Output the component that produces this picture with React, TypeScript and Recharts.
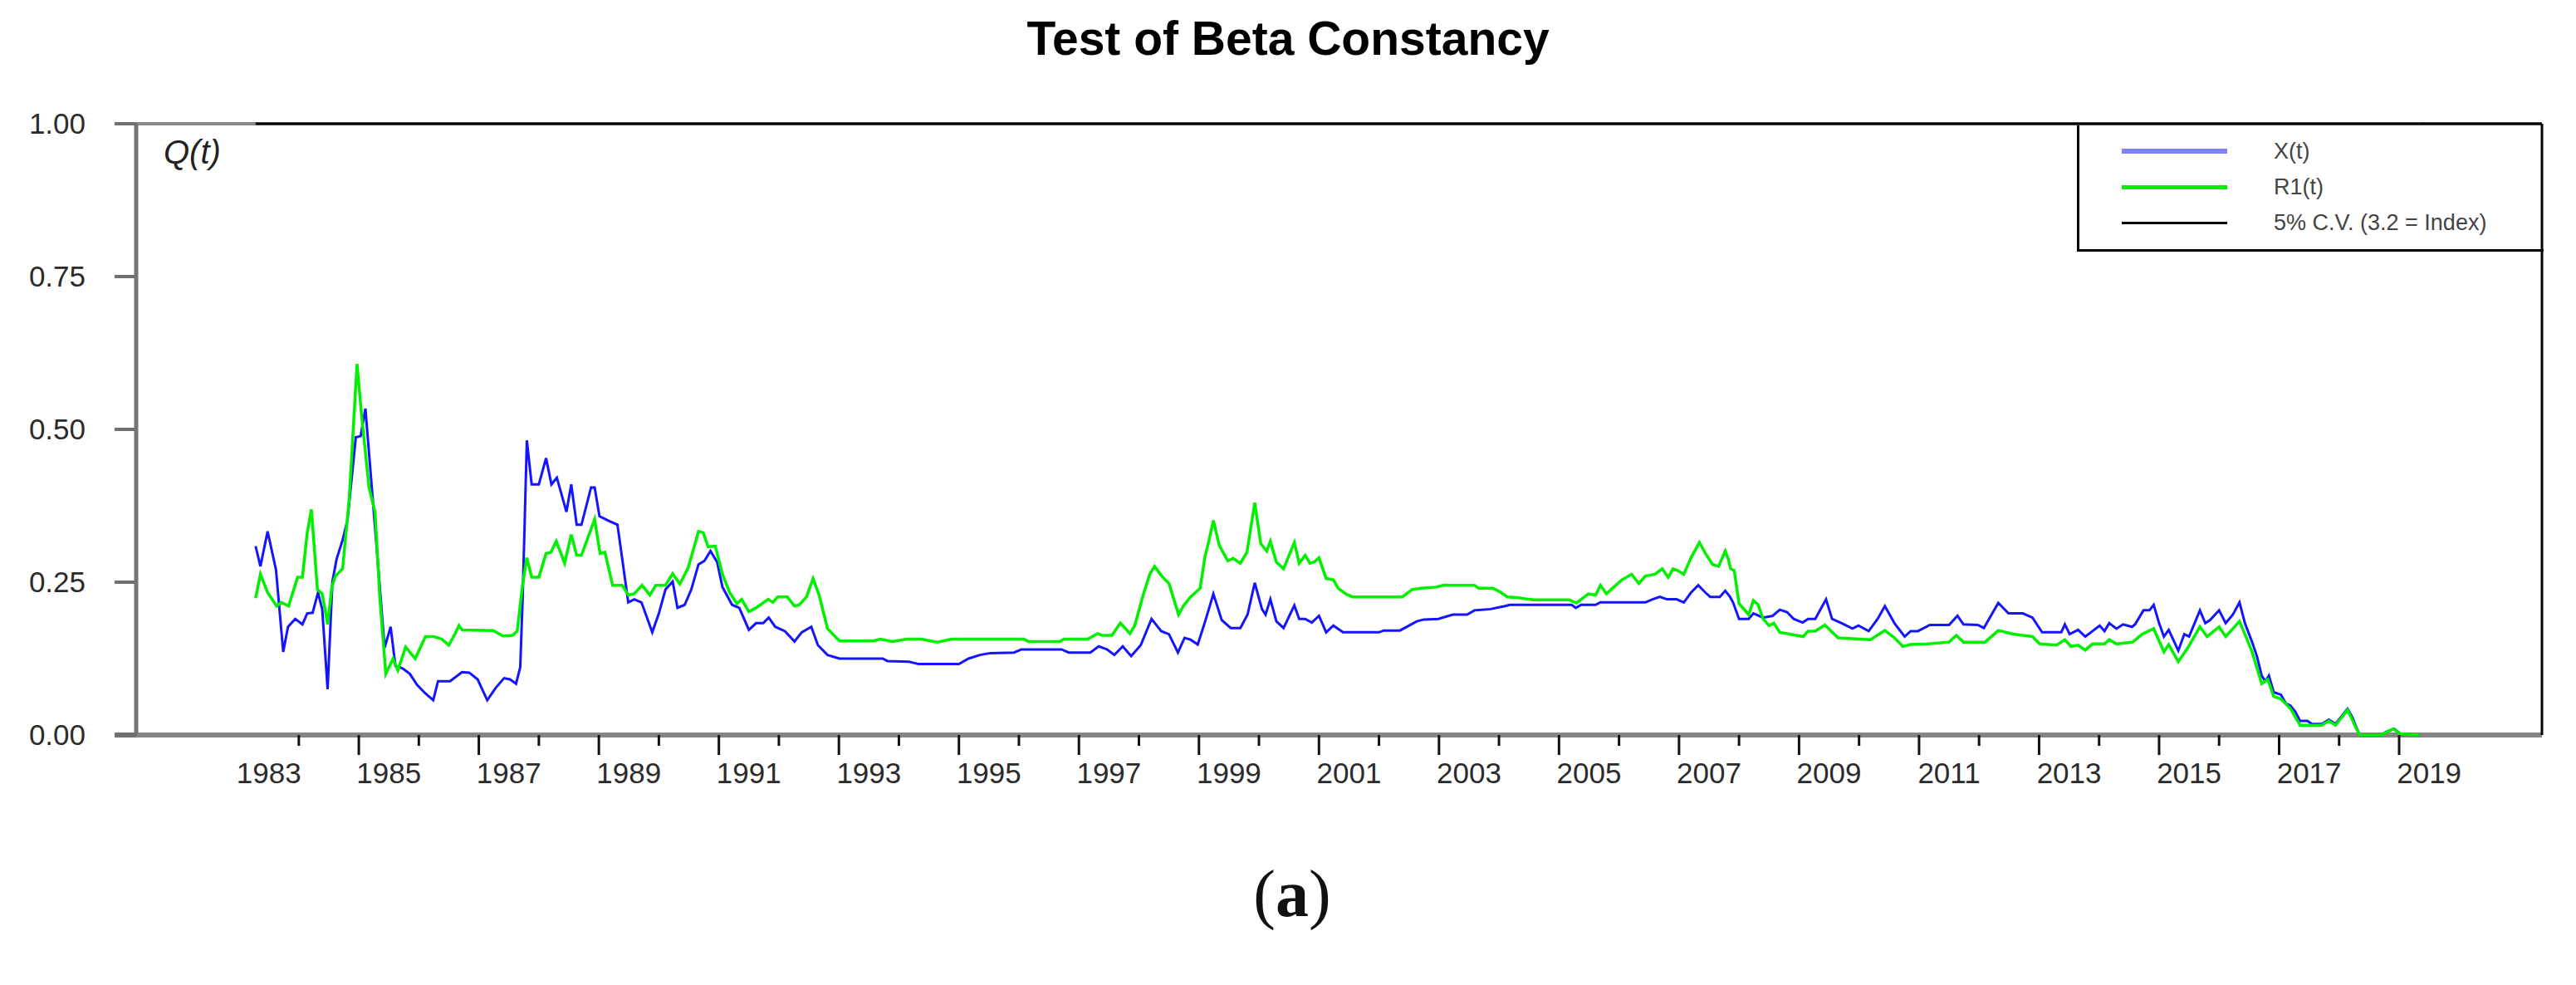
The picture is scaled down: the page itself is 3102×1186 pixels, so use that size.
import React from 'react';
import { LineChart, Line, XAxis, YAxis, ReferenceLine } from 'recharts';

const W = 3102;
const H = 1186;
const SANS = '"Liberation Sans", Arial, sans-serif';

// x runs in decimal years, y is Q(t)
const X_DOMAIN: [number, number] = [1981.29, 2021.38];
const Y_TICKS = [0, 0.25, 0.5, 0.75, 1];
const YEAR_TICKS = [
    1984, 1985, 1986, 1987, 1988, 1989, 1990, 1991, 1992, 1993, 1994, 1995,
    1996, 1997, 1998, 1999, 2000, 2001, 2002, 2003, 2004, 2005, 2006, 2007,
    2008, 2009, 2010, 2011, 2012, 2013, 2014, 2015, 2016, 2017, 2018, 2019,
];
const LABEL_YEARS = [
    1983, 1985, 1987, 1989, 1991, 1993, 1995, 1997, 1999,
    2001, 2003, 2005, 2007, 2009, 2011, 2013, 2015, 2017, 2019,
];

// X(t)
const X_SERIES: [number, number][] = [
    [1983.28, 0.309], [1983.36, 0.276], [1983.48, 0.333], [1983.62, 0.27], [1983.74, 0.136], [1983.82, 0.177],
    [1983.94, 0.19], [1984.06, 0.181], [1984.14, 0.199], [1984.23, 0.2], [1984.32, 0.233], [1984.39, 0.206],
    [1984.48, 0.075], [1984.56, 0.251], [1984.63, 0.288], [1984.73, 0.319], [1984.81, 0.351], [1984.95, 0.487],
    [1985.03, 0.489], [1985.11, 0.534], [1985.19, 0.437], [1985.29, 0.315], [1985.43, 0.143], [1985.53, 0.177],
    [1985.61, 0.113], [1985.73, 0.109], [1985.85, 0.1], [1985.97, 0.082], [1986.11, 0.068], [1986.24, 0.057],
    [1986.32, 0.088], [1986.52, 0.088], [1986.72, 0.103], [1986.84, 0.102], [1986.98, 0.091], [1987.14, 0.057],
    [1987.28, 0.077], [1987.42, 0.093], [1987.52, 0.091], [1987.62, 0.084], [1987.69, 0.111], [1987.73, 0.224],
    [1987.8, 0.482], [1987.88, 0.41], [1988.0, 0.41], [1988.12, 0.453], [1988.21, 0.41], [1988.3, 0.421],
    [1988.46, 0.365], [1988.54, 0.41], [1988.63, 0.344], [1988.71, 0.344], [1988.87, 0.405], [1988.93, 0.405],
    [1989.01, 0.358], [1989.15, 0.351], [1989.31, 0.344], [1989.49, 0.217], [1989.59, 0.222], [1989.71, 0.217],
    [1989.89, 0.168], [1990.0, 0.199], [1990.11, 0.238], [1990.23, 0.251], [1990.31, 0.208], [1990.43, 0.213],
    [1990.54, 0.238], [1990.66, 0.279], [1990.76, 0.285], [1990.86, 0.301], [1990.97, 0.283], [1991.06, 0.242],
    [1991.22, 0.213], [1991.34, 0.208], [1991.5, 0.172], [1991.62, 0.183], [1991.74, 0.183], [1991.83, 0.192],
    [1991.94, 0.177], [1992.1, 0.17], [1992.26, 0.153], [1992.38, 0.168], [1992.54, 0.177], [1992.65, 0.147],
    [1992.81, 0.131], [1993.01, 0.125], [1993.73, 0.125], [1993.81, 0.121], [1994.17, 0.12], [1994.33, 0.116],
    [1995.0, 0.116], [1995.16, 0.125], [1995.35, 0.131], [1995.52, 0.134], [1995.92, 0.135], [1996.04, 0.14],
    [1996.71, 0.14], [1996.83, 0.135], [1997.19, 0.135], [1997.33, 0.145], [1997.47, 0.14], [1997.59, 0.131],
    [1997.73, 0.145], [1997.87, 0.129], [1998.03, 0.147], [1998.21, 0.19], [1998.37, 0.17], [1998.5, 0.165],
    [1998.65, 0.135], [1998.76, 0.159], [1998.86, 0.156], [1998.98, 0.148], [1999.11, 0.188], [1999.24, 0.231],
    [1999.38, 0.188], [1999.53, 0.175], [1999.69, 0.175], [1999.81, 0.197], [1999.93, 0.249], [2000.05, 0.206],
    [2000.11, 0.197], [2000.19, 0.222], [2000.29, 0.186], [2000.41, 0.175], [2000.59, 0.212], [2000.67, 0.19],
    [2000.77, 0.19], [2000.88, 0.184], [2001.0, 0.195], [2001.12, 0.168], [2001.24, 0.179], [2001.4, 0.168],
    [2002.0, 0.168], [2002.08, 0.171], [2002.35, 0.171], [2002.63, 0.186], [2002.75, 0.189], [2002.99, 0.19],
    [2003.23, 0.197], [2003.47, 0.197], [2003.59, 0.204], [2003.86, 0.206], [2004.1, 0.211], [2004.18, 0.213],
    [2005.21, 0.213], [2005.28, 0.208], [2005.37, 0.213], [2005.61, 0.213], [2005.69, 0.217], [2006.44, 0.217],
    [2006.56, 0.222], [2006.68, 0.226], [2006.8, 0.222], [2006.96, 0.222], [2007.08, 0.217], [2007.2, 0.233],
    [2007.32, 0.245], [2007.44, 0.233], [2007.52, 0.226], [2007.68, 0.226], [2007.77, 0.236], [2007.85, 0.226],
    [2007.9, 0.217], [2008.0, 0.19], [2008.16, 0.19], [2008.24, 0.199], [2008.4, 0.192], [2008.56, 0.195],
    [2008.68, 0.205], [2008.8, 0.201], [2008.91, 0.19], [2009.06, 0.184], [2009.15, 0.19], [2009.27, 0.19],
    [2009.45, 0.222], [2009.55, 0.19], [2009.71, 0.183], [2009.89, 0.174], [2009.99, 0.179], [2010.16, 0.17],
    [2010.31, 0.19], [2010.43, 0.211], [2010.59, 0.183], [2010.76, 0.161], [2010.86, 0.17], [2010.98, 0.17],
    [2011.18, 0.18], [2011.5, 0.18], [2011.64, 0.195], [2011.74, 0.181], [2011.98, 0.18], [2012.08, 0.175],
    [2012.32, 0.216], [2012.49, 0.199], [2012.73, 0.199], [2012.89, 0.192], [2013.05, 0.168], [2013.37, 0.168],
    [2013.43, 0.181], [2013.51, 0.165], [2013.65, 0.172], [2013.77, 0.161], [2013.89, 0.17], [2014.01, 0.179],
    [2014.09, 0.17], [2014.17, 0.183], [2014.29, 0.174], [2014.4, 0.181], [2014.55, 0.177], [2014.6, 0.181],
    [2014.74, 0.204], [2014.84, 0.204], [2014.91, 0.213], [2015.0, 0.183], [2015.08, 0.161], [2015.16, 0.172],
    [2015.32, 0.138], [2015.42, 0.165], [2015.5, 0.161], [2015.68, 0.204], [2015.77, 0.183], [2015.85, 0.188],
    [2016.0, 0.204], [2016.11, 0.183], [2016.23, 0.197], [2016.34, 0.217], [2016.43, 0.183], [2016.55, 0.152],
    [2016.63, 0.129], [2016.71, 0.097], [2016.77, 0.088], [2016.83, 0.097], [2016.91, 0.07], [2017.03, 0.066],
    [2017.11, 0.052], [2017.19, 0.048], [2017.27, 0.038], [2017.35, 0.023], [2017.47, 0.023], [2017.55, 0.018],
    [2017.71, 0.018], [2017.83, 0.025], [2017.94, 0.018], [2018.14, 0.043], [2018.22, 0.029], [2018.34, 0],
    [2018.7, 0], [2018.78, 0.005], [2018.92, 0.01], [2019.02, 0.002], [2019.34, 0],
];

// R1(t)
const R1_SERIES: [number, number][] = [
    [1983.28, 0.224], [1983.36, 0.263], [1983.48, 0.233], [1983.63, 0.211], [1983.71, 0.217], [1983.83, 0.211],
    [1983.98, 0.258], [1984.06, 0.258], [1984.14, 0.331], [1984.21, 0.369], [1984.31, 0.238], [1984.39, 0.231],
    [1984.48, 0.181], [1984.55, 0.242], [1984.61, 0.26], [1984.73, 0.272], [1984.84, 0.387], [1984.97, 0.607],
    [1985.05, 0.519], [1985.17, 0.405], [1985.27, 0.365], [1985.35, 0.224], [1985.45, 0.1], [1985.57, 0.125],
    [1985.65, 0.106], [1985.78, 0.144], [1985.94, 0.125], [1986.11, 0.161], [1986.25, 0.161], [1986.38, 0.157],
    [1986.5, 0.147], [1986.6, 0.165], [1986.67, 0.179], [1986.72, 0.172], [1987.24, 0.171], [1987.4, 0.162],
    [1987.56, 0.163], [1987.64, 0.17], [1987.73, 0.247], [1987.8, 0.29], [1987.88, 0.258], [1988.0, 0.258],
    [1988.12, 0.297], [1988.2, 0.299], [1988.29, 0.317], [1988.43, 0.281], [1988.54, 0.328], [1988.63, 0.294],
    [1988.71, 0.294], [1988.93, 0.353], [1989.02, 0.297], [1989.1, 0.299], [1989.23, 0.245], [1989.39, 0.245],
    [1989.49, 0.229], [1989.59, 0.231], [1989.72, 0.245], [1989.85, 0.229], [1989.95, 0.245], [1990.11, 0.245],
    [1990.23, 0.264], [1990.35, 0.247], [1990.49, 0.274], [1990.66, 0.333], [1990.74, 0.331], [1990.82, 0.308],
    [1990.94, 0.309], [1991.06, 0.263], [1991.18, 0.233], [1991.3, 0.215], [1991.38, 0.222], [1991.5, 0.202],
    [1991.62, 0.208], [1991.82, 0.222], [1991.9, 0.217], [1991.98, 0.226], [1992.14, 0.226], [1992.26, 0.211],
    [1992.34, 0.213], [1992.46, 0.226], [1992.57, 0.256], [1992.67, 0.229], [1992.81, 0.174], [1993.01, 0.154],
    [1993.57, 0.154], [1993.69, 0.157], [1993.89, 0.153], [1994.13, 0.157], [1994.37, 0.157], [1994.64, 0.152],
    [1994.88, 0.157], [1995.35, 0.157], [1996.08, 0.157], [1996.16, 0.153], [1996.68, 0.153], [1996.75, 0.157],
    [1997.15, 0.157], [1997.31, 0.166], [1997.39, 0.163], [1997.55, 0.163], [1997.69, 0.183], [1997.75, 0.177],
    [1997.85, 0.166], [1997.93, 0.179], [1998.07, 0.229], [1998.18, 0.263], [1998.26, 0.276], [1998.38, 0.26],
    [1998.5, 0.248], [1998.66, 0.197], [1998.74, 0.211], [1998.86, 0.226], [1998.94, 0.233], [1999.02, 0.24],
    [1999.1, 0.292], [1999.16, 0.315], [1999.24, 0.351], [1999.34, 0.31], [1999.48, 0.285], [1999.57, 0.289],
    [1999.69, 0.281], [1999.8, 0.299], [1999.93, 0.38], [2000.03, 0.313], [2000.13, 0.301], [2000.19, 0.317],
    [2000.29, 0.283], [2000.41, 0.272], [2000.59, 0.315], [2000.67, 0.281], [2000.77, 0.294], [2000.85, 0.281],
    [2000.92, 0.283], [2001.0, 0.29], [2001.12, 0.256], [2001.24, 0.254], [2001.32, 0.24], [2001.46, 0.23],
    [2001.56, 0.226], [2002.39, 0.226], [2002.55, 0.238], [2002.71, 0.24], [2002.95, 0.242], [2003.07, 0.245],
    [2003.59, 0.245], [2003.66, 0.24], [2003.9, 0.24], [2004.02, 0.234], [2004.14, 0.226], [2004.3, 0.225],
    [2004.5, 0.222], [2004.58, 0.221], [2005.17, 0.221], [2005.29, 0.216], [2005.37, 0.222], [2005.49, 0.231],
    [2005.61, 0.229], [2005.69, 0.245], [2005.79, 0.231], [2005.89, 0.24], [2006.05, 0.254], [2006.21, 0.263],
    [2006.33, 0.248], [2006.44, 0.26], [2006.6, 0.263], [2006.72, 0.272], [2006.82, 0.258], [2006.9, 0.272],
    [2006.98, 0.269], [2007.08, 0.263], [2007.2, 0.29], [2007.34, 0.315], [2007.44, 0.297], [2007.56, 0.279],
    [2007.66, 0.276], [2007.77, 0.301], [2007.82, 0.288], [2007.86, 0.272], [2007.92, 0.269], [2008.0, 0.215],
    [2008.16, 0.197], [2008.24, 0.22], [2008.32, 0.213], [2008.4, 0.19], [2008.5, 0.179], [2008.58, 0.183],
    [2008.68, 0.168], [2008.84, 0.165], [2009.07, 0.161], [2009.15, 0.17], [2009.27, 0.17], [2009.43, 0.18],
    [2009.65, 0.159], [2010.19, 0.156], [2010.43, 0.171], [2010.59, 0.159], [2010.73, 0.145], [2010.86, 0.148],
    [2011.14, 0.149], [2011.5, 0.152], [2011.62, 0.163], [2011.74, 0.152], [2012.1, 0.152], [2012.32, 0.171],
    [2012.57, 0.165], [2012.89, 0.161], [2013.01, 0.149], [2013.29, 0.147], [2013.43, 0.156], [2013.53, 0.145],
    [2013.65, 0.147], [2013.77, 0.139], [2013.89, 0.149], [2014.09, 0.149], [2014.17, 0.156], [2014.29, 0.149],
    [2014.56, 0.152], [2014.72, 0.165], [2014.91, 0.174], [2015.08, 0.136], [2015.16, 0.148], [2015.32, 0.12],
    [2015.48, 0.143], [2015.68, 0.177], [2015.8, 0.161], [2016.0, 0.177], [2016.11, 0.161], [2016.34, 0.186],
    [2016.43, 0.165], [2016.55, 0.136], [2016.71, 0.084], [2016.81, 0.091], [2016.91, 0.063], [2017.03, 0.059],
    [2017.19, 0.043], [2017.35, 0.016], [2017.71, 0.016], [2017.83, 0.023], [2017.94, 0.016], [2018.14, 0.041],
    [2018.34, 0], [2018.7, 0], [2018.9, 0.01], [2019.02, 0.002], [2019.34, 0],
];

// 5% critical value sits above the plotted range, so it rides the top edge
const CV_SERIES: [number, number][] = [[1983.28, 1], [2019.34, 1]];

const LEGEND_ROWS = [
    { label: 'X(t)', color: '#8080ff', width: 6 },
    { label: 'R1(t)', color: '#00ee00', width: 5 },
    { label: '5% C.V. (3.2 = Index)', color: '#000000', width: 3 },
];

const toPoints = (s: [number, number][]) => s.map(([t, v]) => ({ t, v }));

const xTicks = [...YEAR_TICKS, ...LABEL_YEARS.map(y => y + 0.5)].sort((a, b) => a - b);

const XTick = (props: any) => {
    const { x, y, payload } = props;
    const v = payload.value;
    if (Number.isInteger(v)) {
        const len = v % 2 === 1 ? 24 : 13;
        return <line x1={x} y1={y} x2={x} y2={y + len} stroke="#111" strokeWidth={3} />;
    }
    return (
        <text x={x} y={y + 58} textAnchor="middle" fontSize={35} fill="#2b2b2b" fontFamily={SANS}>
            {Math.floor(v)}
        </text>
    );
};

const YTick = (props: any) => {
    const { x, y, payload } = props;
    return (
        <g>
            <line x1={x - 26} y1={y} x2={x} y2={y} stroke="#707070" strokeWidth={payload.value === 0 ? 6 : 4} />
            <text x={x - 61} y={y + 12} textAnchor="end" fontSize={35} fill="#2b2b2b" fontFamily={SANS}>
                {payload.value.toFixed(2)}
            </text>
        </g>
    );
};

export default function App() {
    return (
        <div style={{ position: 'absolute', left: 0, top: 0, width: W, height: H, background: '#fff', overflow: 'hidden' }}>
            <LineChart width={W} height={H} margin={{ top: 149, right: 41, bottom: 241, left: 104 }}>
                <XAxis
                    type="number"
                    dataKey="t"
                    domain={X_DOMAIN}
                    ticks={xTicks}
                    interval={0}
                    height={60}
                    tickSize={0}
                    tickMargin={0}
                    tick={<XTick />}
                    axisLine={false}
                    tickLine={false}
                />
                <YAxis
                    type="number"
                    dataKey="v"
                    domain={[0, 1]}
                    ticks={Y_TICKS}
                    width={60}
                    tickSize={0}
                    tickMargin={0}
                    tick={<YTick />}
                    axisLine={{ stroke: '#767676', strokeWidth: 5 }}
                    tickLine={false}
                />
                {/* frame: gray base line and top, black right edge */}
                <ReferenceLine y={0} stroke="#858585" strokeWidth={6} />
                <ReferenceLine y={1} stroke="#8a8a8a" strokeWidth={4} />
                <ReferenceLine segment={[{ x: CV_SERIES[1][0], y: 1 }, { x: X_DOMAIN[1], y: 1 }]} stroke="#000" strokeWidth={3} />
                <ReferenceLine x={X_DOMAIN[1]} stroke="#000" strokeWidth={3} />
                <Line data={toPoints(CV_SERIES)} dataKey="v" name="5% C.V. (3.2 = Index)" stroke="#000" strokeWidth={3} dot={false} isAnimationActive={false} />
                <Line data={toPoints(X_SERIES)} dataKey="v" name="X(t)" type="linear" stroke="#1414ff" strokeWidth={3} dot={false} isAnimationActive={false} />
                <Line data={toPoints(R1_SERIES)} dataKey="v" name="R1(t)" type="linear" stroke="#00f000" strokeWidth={3.5} dot={false} isAnimationActive={false} />
            </LineChart>

            <svg width={W} height={H} style={{ position: 'absolute', left: 0, top: 0, pointerEvents: 'none' }}>
                <text x={1551} y={66} textAnchor="middle" fontSize={57} fontWeight="bold" fill="#000" fontFamily={SANS}>
                    Test of Beta Constancy
                </text>
                <text x={197} y={197} fontSize={40} fontStyle="italic" fill="#222" fontFamily={SANS}>
                    Q(t)
                </text>
                <text x={1556} y={1103} textAnchor="middle" fontSize={80} fill="#111" fontFamily='"Liberation Serif", "DejaVu Serif", serif'>
                    (<tspan fontWeight="bold">a</tspan>)
                </text>
            </svg>

            <div
                style={{
                    position: 'absolute',
                    left: 2501,
                    top: 151,
                    width: 562,
                    height: 152,
                    boxSizing: 'border-box',
                    borderLeft: '3px solid #000',
                    borderBottom: '3px solid #000',
                    fontFamily: SANS,
                }}
            >
                {LEGEND_ROWS.map((row, i) => (
                    <div key={row.label} style={{ position: 'absolute', left: 0, top: 31 + i * 43 - 20, height: 40, width: '100%' }}>
                        <div
                            style={{
                                position: 'absolute',
                                left: 51,
                                top: 20 - row.width / 2,
                                width: 127,
                                height: row.width,
                                background: row.color,
                            }}
                        />
                        <div style={{ position: 'absolute', left: 234, top: 0, lineHeight: '40px', fontSize: 27, color: '#444', whiteSpace: 'nowrap' }}>
                            {row.label}
                        </div>
                    </div>
                ))}
            </div>
        </div>
    );
}
